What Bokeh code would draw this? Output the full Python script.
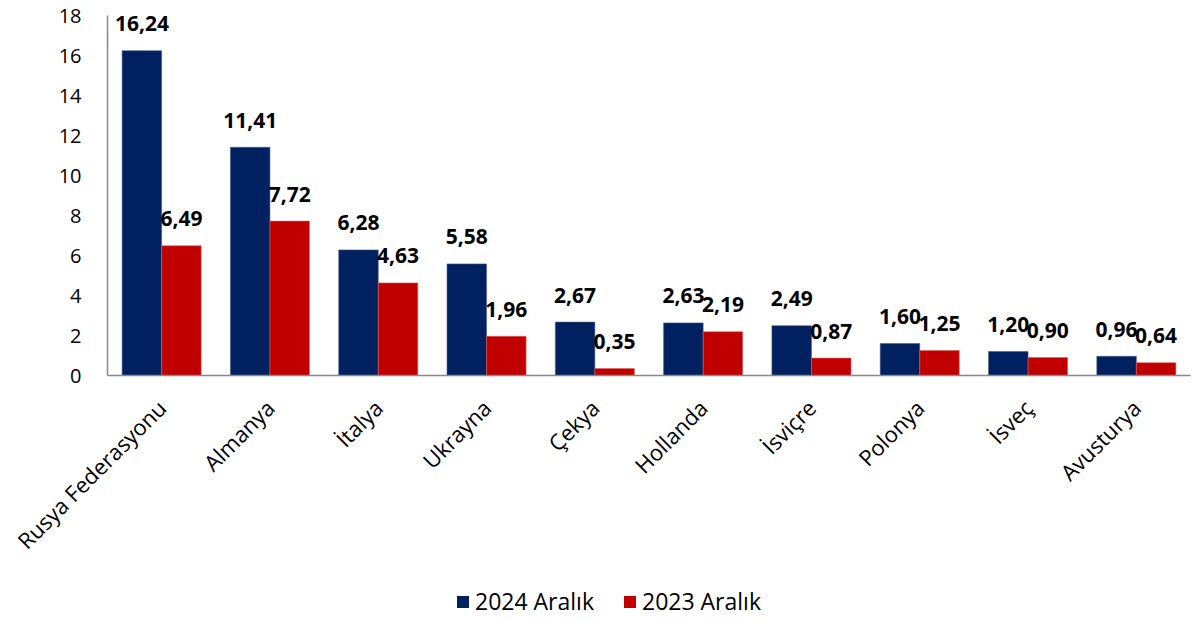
import math
from bokeh.plotting import figure
from bokeh.layouts import column
from bokeh.models import ColumnDataSource, FactorRange, FixedTicker, Legend, LegendItem
from bokeh.transform import dodge
from bokeh.core.properties import value
from bokeh.embed import file_html
from bokeh.resources import INLINE

countries = ["Rusya Federasyonu", "Almanya", "İtalya", "Ukrayna", "Çekya",
             "Hollanda", "İsviçre", "Polonya", "İsveç", "Avusturya"]
v2024 = [16.24, 11.41, 6.28, 5.58, 2.67, 2.63, 2.49, 1.60, 1.20, 0.96]
v2023 = [6.49, 7.72, 4.63, 1.96, 0.35, 2.19, 0.87, 1.25, 0.90, 0.64]
series_names = ["2024 Aralık", "2023 Aralık"]
y_ticks = [0, 2, 4, 6, 8, 10, 12, 14, 16, 18]

def fmt(v):
    return f"{v:.2f}".replace(".", ",")

src = ColumnDataSource(dict(
    cat=countries, a=v2024, b=v2023,
    la=[fmt(v) for v in v2024], lb=[fmt(v) for v in v2023],
))

FONT = "Open Sans"
NAVY = "#002060"
RED = "#C00000"

p = figure(width=1200, height=585, output_backend="svg", toolbar_location=None,
           x_range=FactorRange(*countries, range_padding=0), y_range=(0, 18),
           min_border_left=107, min_border_right=10, min_border_top=15, min_border_bottom=210)
p.outline_line_color = None
p.xgrid.grid_line_color = None
p.ygrid.grid_line_color = None

bw = 0.365
ra = p.vbar(x=dodge("cat", -bw / 2, range=p.x_range), top="a", width=bw, source=src,
            fill_color=NAVY, line_color="#4a5f8a", line_width=0.6)
rb = p.vbar(x=dodge("cat", bw / 2, range=p.x_range), top="b", width=bw, source=src,
            fill_color=RED, line_color="#e06060", line_width=0.6)

for col, lab, off in (("a", "la", -bw / 2), ("b", "lb", bw / 2)):
    p.text(x=dodge("cat", off, range=p.x_range), y=col, text=lab, source=src,
           text_font=value(FONT), text_font_style="bold", text_font_size="21px",
           text_align="center", text_baseline="middle", y_offset=-27, text_color="black")

p.yaxis.ticker = FixedTicker(ticks=y_ticks)
for ax in (p.xaxis, p.yaxis):
    ax.axis_line_color = "#898989"
    ax.axis_line_width = 1.5
    ax.major_tick_line_color = None
    ax.minor_tick_line_color = None
    ax.major_label_text_font = FONT
    ax.major_label_text_color = "black"
p.yaxis.major_label_text_font_size = "20px"
p.yaxis.major_label_standoff = 20
p.xaxis.major_label_text_font_size = "22px"
p.xaxis.major_label_orientation = math.pi / 4
p.xaxis.major_label_standoff = 22

# legend strip below the chart (proxy renderers have zero height, so draw nothing)
lg = figure(width=1200, height=36, output_backend="svg", toolbar_location=None,
            x_axis_type=None, y_axis_type=None, min_border=0,
            x_range=(0, 1), y_range=(0, 1))
lg.outline_line_color = None
lg.xgrid.grid_line_color = None
lg.ygrid.grid_line_color = None
da = lg.vbar(x=[0.5], top=[0], width=0.01, fill_color=NAVY, line_color=None)
db = lg.vbar(x=[0.5], top=[0], width=0.01, fill_color=RED, line_color=None)
legend = Legend(items=[LegendItem(label=series_names[0], renderers=[da]),
                       LegendItem(label=series_names[1], renderers=[db])],
                orientation="horizontal", location=(348, 4),
                label_text_font=FONT, label_text_font_size="23px", label_text_color="black",
                glyph_width=15, glyph_height=15, label_standoff=5, spacing=28,
                padding=0, margin=0, border_line_color=None, background_fill_alpha=0)
lg.add_layout(legend, "center")

layout = column(p, lg, spacing=0)
open("out.html", "w").write(file_html(layout, INLINE))
